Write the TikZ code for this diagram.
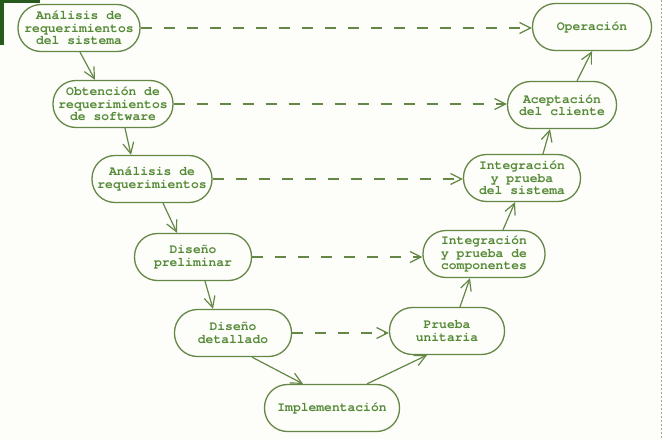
\documentclass[tikz,border=0pt]{standalone}
\usepackage{fontspec}
\setmonofont{TeX Gyre Cursor}
\usetikzlibrary{arrows.meta}
\definecolor{txtgreen}{RGB}{85,138,55}
\definecolor{linegreen}{RGB}{100,135,70}
\definecolor{darkcorner}{RGB}{40,90,30}
\definecolor{paper}{RGB}{253,253,250}
\tikzset{
 phase/.style={draw=linegreen, line width=1.3pt, rounded corners=23pt, minimum height=47pt,
   inner sep=0pt, align=center, text=txtgreen,
   font=\ttfamily\bfseries\fontsize{13}{12.5}\selectfont},
 flow/.style={draw=linegreen, line width=1.2pt, -{Straight Barb[length=11pt,width=11pt]}},
 link/.style={flow, dash pattern=on 11pt off 12pt},
}
\begin{document}
\begin{tikzpicture}[x=1pt,y=-1pt]
\fill[paper] (0,0) rectangle (663,439);
\useasboundingbox (0,0) rectangle (663,439);
\fill[darkcorner] (0,0) rectangle (40,3);
\fill[darkcorner] (0,0) rectangle (4,45);
\draw[gray!70, line width=0.8pt, dash pattern=on 2pt off 2pt] (661.5,0) -- (661.5,439);

\node[phase, minimum width=122pt] (n1) at (79,28) {Análisis de\\requerimientos\\del sistema};
\node[phase, minimum width=120pt] (n2) at (113,104) {Obtención de\\requerimientos\\de software};
\node[phase, minimum width=120pt] (n5) at (152,179) {Análisis de\\requerimientos};
\node[phase, minimum width=117pt] (n6) at (193,257) {Diseño\\preliminar};
\node[phase, minimum width=117pt] (n9) at (233,333) {Diseño\\detallado};
\node[phase, minimum width=135pt] (n10) at (332,408) {Implementación};
\node[phase, minimum width=115pt] (n11) at (447,331) {Prueba\\unitaria};
\node[phase, minimum width=122pt] (n8) at (484,254) {Integración\\y prueba de\\componentes};
\node[phase, minimum width=117pt] (n7) at (522,178) {Integración\\y prueba\\del sistema};
\node[phase, minimum width=109pt] (n4) at (562,105) {Aceptación\\del cliente};
\node[phase, minimum width=119pt] (n3) at (592,27) {Operación};

\draw[flow] ([xshift=1pt]n1.south) -- ([xshift=-18pt]n2.north);
\draw[flow] ([xshift=12pt]n2.south) -- ([xshift=-21pt]n5.north);
\draw[flow] ([xshift=11pt]n5.south) -- ([xshift=-16pt]n6.north);
\draw[flow] ([xshift=12pt]n6.south) -- ([xshift=-20pt]n9.north);
\draw[flow] ([xshift=19pt]n9.south) -- ([xshift=-29pt]n10.north);
\draw[flow] ([xshift=35pt]n10.north) -- ([xshift=-20pt]n11.south);
\draw[flow] ([xshift=13pt]n11.north) -- ([xshift=-14pt]n8.south);
\draw[flow] ([xshift=19pt]n8.north) -- ([xshift=-7pt]n7.south);
\draw[flow] ([xshift=21pt]n7.north) -- ([xshift=-12pt]n4.south);
\draw[flow] ([xshift=15pt]n4.north) -- (n3.south);

\draw[link] (n1.east) -- (n1.east -| n3.west);
\draw[link] (n2.east) -- (n2.east -| n4.west);
\draw[link] (n5.east) -- (n5.east -| n7.west);
\draw[link] (n6.east) -- (n6.east -| n8.west);
\draw[link] (n9.east) -- (n9.east -| n11.west);
\end{tikzpicture}
\end{document}
